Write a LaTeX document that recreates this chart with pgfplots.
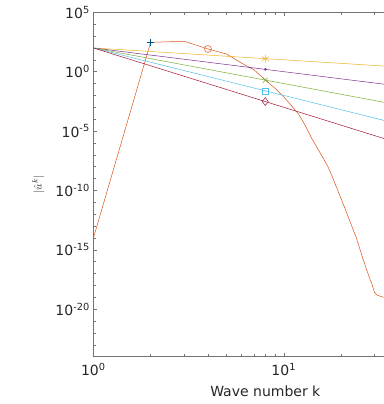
\documentclass[border=0pt]{standalone}
\usepackage{pgfplots}
\pgfplotsset{compat=1.18}
\usepackage{fontspec}
\setmainfont{DejaVu Sans}

\definecolor{mblue}{rgb}{0,0.447,0.741}
\definecolor{morange}{rgb}{0.85,0.325,0.098}
\definecolor{myellow}{rgb}{0.929,0.694,0.125}
\definecolor{mpurple}{rgb}{0.494,0.184,0.556}
\definecolor{mgreen}{rgb}{0.466,0.674,0.188}
\definecolor{mcyan}{rgb}{0.301,0.745,0.933}
\definecolor{mdred}{rgb}{0.635,0.078,0.184}
\definecolor{mtext}{rgb}{0.15,0.15,0.15}

\begin{document}
\begin{tikzpicture}
\begin{axis}[
  name=ax, at={(0,0)}, anchor=south west,
  scale only axis, width=344pt, height=344.4pt,
  xmode=log, ymode=log,
  xmin=1, xmax=64, ymin=1e-24, ymax=1e5,
  axis line style={black!55, line width=0.6pt},
  every tick/.style={black!55, line width=0.5pt},
  tick align=inside,
  major tick length=4pt, minor tick length=2.5pt,
  xtick={1,10},
  xticklabels={10\textsuperscript{0},10\textsuperscript{1}},
  minor xtick={2,3,4,5,6,7,8,9,20,30,40,50,60},
  ytick={1e-20,1e-15,1e-10,1e-5,1,1e5},
  yticklabels={10\textsuperscript{-20},10\textsuperscript{-15},10\textsuperscript{-10},10\textsuperscript{-5},10\textsuperscript{0},10\textsuperscript{5}},
  minor ytick={1e-23,1e-22,1e-21,1e-19,1e-18,1e-17,1e-16,1e-14,1e-13,1e-12,1e-11,1e-9,1e-8,1e-7,1e-6,1e-4,1e-3,1e-2,1e-1,1e1,1e2,1e3,1e4},
  ticklabel style={font=\fontsize{14}{16}\selectfont, text=mtext},
  xticklabel style={yshift=-3pt},
  xlabel={Wave number k},
  xlabel style={font=\fontsize{14}{16}\selectfont, text=mtext, at={(axis description cs:0.5,-0.1)}, anchor=center},
  ylabel={$|\hat{u}^k|$},
  ylabel style={font=\fontsize{11}{13}\selectfont, text=mtext, at={(axis description cs:-0.16,0.5)}, anchor=center},
]
% blue marker
\addplot[mblue!70!black, only marks, mark=+, mark size=3.5pt, line width=0.5pt] coordinates {(2,290)};
% orange spectrum
\addplot[morange, line width=0.5pt, mark=o, mark size=3.5pt, mark indices={4}] coordinates {
(1,9.1e-15) (2,295) (3,363) (4,81.3) (5,30.9) (6,5.37) (7,1.38) (8,0.204)
(9,0.0398) (10,7.6e-3) (11,1.29e-3) (12,2.5e-4) (13,2.7e-5) (14,2.5e-6)
(15,3.8e-7) (16,6.2e-8) (17,1.12e-8) (18,1.38e-9) (19,1.55e-10) (20,2.0e-11)
(21,2.8e-12) (22,4.0e-13) (23,6.3e-14) (24,1.17e-14) (25,1.41e-15) (26,1.86e-16)
(27,3.2e-17) (28,5.8e-18) (29,1.35e-18) (30,2.5e-19) (31,1.5e-19) (32,1.26e-19)
(33,1.05e-19) (34,1.0e-19) (40,9e-20) (48,8e-20) (56,8.5e-20) (64,8e-20)
};
% reference slopes
\addplot[myellow, line width=0.5pt, mark=asterisk, mark size=4pt, mark indices={2}] coordinates {(1,100) (8,12.5) (64,1.5625)};
\addplot[mpurple, line width=0.5pt, mark=*, mark size=1pt, mark indices={2}] coordinates {(1,100) (8,1.5625) (64,0.0244140625)};
\addplot[mgreen, line width=0.5pt, mark=x, mark size=3.5pt, mark indices={2}] coordinates {(1,100) (8,0.1953125) (64,3.8147e-4)};
\addplot[mcyan, line width=0.5pt, mark=square, mark size=3pt, mark indices={2}] coordinates {(1,100) (8,0.0244140625) (64,5.96e-6)};
\addplot[mdred, line width=0.5pt, mark=diamond, mark size=4pt, mark indices={2}] coordinates {(1,100) (8,3.0517578e-3) (64,9.31e-8)};
\end{axis}
\pgfresetboundingbox
\path[use as bounding box] (-93.3pt,-47.3pt) rectangle (289.7pt,356.7pt);
\end{tikzpicture}
\end{document}
